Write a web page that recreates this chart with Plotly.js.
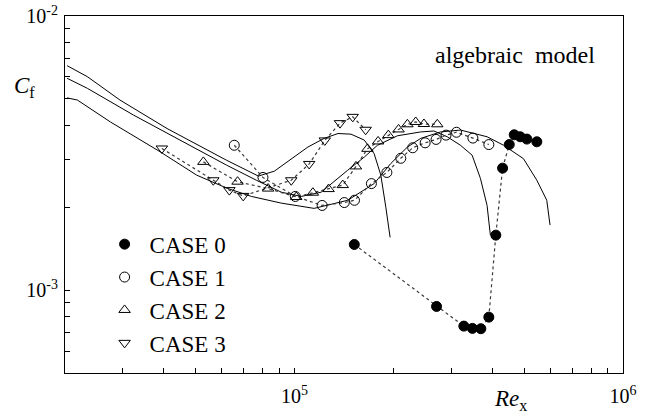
<!DOCTYPE html>
<html>
<head>
<meta charset="utf-8">
<script src="https://cdn.plot.ly/plotly-3.0.1.min.js"></script>
<style>html,body{margin:0;padding:0;background:#fff;}#chart{width:662px;height:418px;}</style>
</head>
<body>
<div id="chart"></div>
<script>
// ---- measured data (Re_x, Cf) ----
const case0Re = [1.52e5, 2.706e5, 3.276e5, 3.479e5, 3.692e5, 3.904e5, 4.100e5, 4.299e5, 4.505e5, 4.665e5, 4.864e5, 5.096e5, 5.466e5];
const case0Cf = [1.47e-3, 8.74e-4, 7.41e-4, 7.27e-4, 7.25e-4, 7.99e-4, 1.59e-3, 2.79e-3, 3.40e-3, 3.69e-3, 3.63e-3, 3.56e-3, 3.48e-3];

const case1Re = [6.553e4, 8.013e4, 1.005e5, 1.213e5, 1.417e5, 1.522e5, 1.714e5, 1.910e5, 2.106e5, 2.289e5, 2.498e5, 2.697e5, 2.892e5, 3.112e5, 3.491e5, 3.904e5];
const case1Cf = [3.38e-3, 2.58e-3, 2.20e-3, 2.04e-3, 2.09e-3, 2.13e-3, 2.45e-3, 2.69e-3, 3.03e-3, 3.31e-3, 3.45e-3, 3.55e-3, 3.68e-3, 3.77e-3, 3.59e-3, 3.40e-3];

const case2Re = [5.277e4, 6.705e4, 8.307e4, 1.012e5, 1.137e5, 1.269e5, 1.402e5, 1.538e5, 1.667e5, 1.796e5, 1.930e5, 2.073e5, 2.206e5, 2.338e5, 2.477e5, 2.720e5];
const case2Cf = [2.94e-3, 2.49e-3, 2.35e-3, 2.19e-3, 2.27e-3, 2.34e-3, 2.42e-3, 2.83e-3, 3.28e-3, 3.49e-3, 3.68e-3, 3.86e-3, 4.03e-3, 4.11e-3, 4.04e-3, 4.03e-3];

const case3Re = [3.945e4, 5.657e4, 6.332e4, 6.976e4, 9.77e4, 1.108e5, 1.236e5, 1.375e5, 1.503e5, 1.646e5];
const case3Cf = [3.29e-3, 2.52e-3, 2.32e-3, 2.21e-3, 2.52e-3, 2.89e-3, 3.52e-3, 4.07e-3, 4.29e-3, 3.85e-3];

// ---- algebraic model curves ----
const model3Re = [2.03e4, 2.34e4, 2.94e4, 4.09e4, 6.21e4, 7.14e4, 7.76e4, 8.68e4, 9.77e4, 1.098e5, 1.23e5, 1.356e5, 1.485e5, 1.63e5, 1.747e5, 1.831e5, 1.896e5, 1.954e5];
const model3Cf = [6.59e-3, 6.01e-3, 4.94e-3, 3.89e-3, 2.98e-3, 2.74e-3, 2.61e-3, 2.72e-3, 3.02e-3, 3.33e-3, 3.58e-3, 3.73e-3, 3.71e-3, 3.53e-3, 3.15e-3, 2.63e-3, 2.01e-3, 1.56e-3];

const model2Re = [2.03e4, 2.34e4, 3.238e4, 4.381e4, 6.21e4, 7.654e4, 9.114e4, 1.048e5, 1.205e5, 1.451e5, 1.63e5, 1.788e5, 2.057e5, 2.421e5, 2.656e5, 2.916e5, 3.2e5, 3.472e5, 3.68e5, 3.856e5, 3.946e5];
const model2Cf = [5.93e-3, 5.45e-3, 4.35e-3, 3.58e-3, 2.86e-3, 2.52e-3, 2.28e-3, 2.20e-3, 2.28e-3, 2.74e-3, 3.06e-3, 3.38e-3, 3.66e-3, 3.78e-3, 3.81e-3, 3.63e-3, 3.38e-3, 3.11e-3, 2.56e-3, 2.04e-3, 1.59e-3];

const model1Re = [2.03e4, 2.181e4, 2.75e4, 3.898e4, 5.036e4, 6.21e4, 7.393e4, 9.11e4, 1.147e5, 1.451e5, 1.747e5, 1.963e5, 2.206e5, 2.421e5, 2.783e5, 3.2e5, 3.856e5, 4.329e5, 4.977e5, 5.466e5, 5.86e5, 5.996e5];
const model1Cf = [5.03e-3, 4.94e-3, 4.11e-3, 3.20e-3, 2.63e-3, 2.36e-3, 2.20e-3, 2.08e-3, 1.99e-3, 2.13e-3, 2.45e-3, 2.90e-3, 3.33e-3, 3.58e-3, 3.78e-3, 3.84e-3, 3.63e-3, 3.38e-3, 3.02e-3, 2.52e-3, 2.13e-3, 1.73e-3];

// ---- ticks ----
const xTickVals = [1e5, 1e6];
const xTickText = ['10<sup>5</sup>', '10<sup>6</sup>'];
const xMinorVals = [2e4,3e4,4e4,5e4,6e4,7e4,8e4,9e4,2e5,3e5,4e5,5e5,6e5,7e5,8e5,9e5];
const yTickVals = [1e-3, 1e-2];
const yTickText = ['10<sup>-3</sup>', '10<sup>-2</sup>'];
const yMinorVals = [5e-4,6e-4,7e-4,8e-4,9e-4,2e-3,3e-3,4e-3,5e-3,6e-3,7e-3,8e-3,9e-3];

const caseNames = ['CASE 0','CASE 1','CASE 2','CASE 3'];

const serif = 'Liberation Serif, Times New Roman, serif';
const dotLine = {color: '#3a3a3a', width: 1.2, dash: 'dot'};
const modelLine = {color: '#000', width: 1};

const traces = [];
[[model1Re, model1Cf], [model2Re, model2Cf], [model3Re, model3Cf]].forEach(function (m) {
  traces.push({x: m[0], y: m[1], mode: 'lines', line: modelLine, showlegend: false, hoverinfo: 'skip'});
});

const cases = [
  {x: case0Re, y: case0Cf, sym: 'circle', size: 10, color: '#000'},
  {x: case1Re, y: case1Cf, sym: 'circle-open', size: 10, color: '#000'},
  {x: case2Re, y: case2Cf, sym: 'triangle-up-open', size: 10, color: '#000'},
  {x: case3Re, y: case3Cf, sym: 'triangle-down-open', size: 10, color: '#000'}
];
cases.forEach(function (c) {
  traces.push({x: c.x, y: c.y, mode: 'lines', line: dotLine, showlegend: false, hoverinfo: 'skip'});
});
cases.forEach(function (c, i) {
  traces.push({x: c.x, y: c.y, mode: 'markers', name: caseNames[i], legendgroup: 'g' + i,
    marker: {symbol: c.sym, size: c.size, color: c.color, line: {color: '#000', width: 1}}});
});

function axisStyle(range, vals, text, minorVals, standoff) {
  return {type: 'log', range: range, tickmode: 'array', tickvals: vals, ticktext: text,
    ticks: 'inside', ticklen: 5, tickcolor: '#000', tickwidth: 1, ticklabelstandoff: standoff,
    minor: {tickmode: 'array', tickvals: minorVals, ticks: 'inside', ticklen: 5, tickcolor: '#000', tickwidth: 1, showgrid: false},
    showline: true, linecolor: '#000', linewidth: 1, mirror: true, showgrid: false, zeroline: false,
    tickfont: {family: serif, size: 20, color: '#000'}};
}

const layout = {
  width: 662, height: 418,
  margin: {l: 65, r: 39, t: 16, b: 45},
  paper_bgcolor: '#fff', plot_bgcolor: '#fff',
  font: {family: serif, color: '#000', size: 19},
  showlegend: true,
  legend: {x: 0.062, y: 0.421, xanchor: 'left', yanchor: 'top', bgcolor: 'rgba(0,0,0,0)', itemwidth: 40,
    font: {family: serif, size: 23, color: '#000'}, traceorder: 'grouped', tracegroupgap: 0},
  xaxis: axisStyle([Math.log10(2e4), 6], xTickVals, xTickText, xMinorVals, 5),
  yaxis: axisStyle([Math.log10(5e-4), -2], yTickVals, yTickText, yMinorVals, 2),
  annotations: [
    {text: '<i>C</i><sub>f</sub>', xref: 'paper', yref: 'paper', x: -0.095, y: 0.80, xanchor: 'left', yanchor: 'middle',
      showarrow: false, font: {family: serif, size: 23, color: '#000'}},
    {text: '<i>Re</i><sub>x</sub>', xref: 'paper', yref: 'paper', x: 0.765, y: -0.075, xanchor: 'left', yanchor: 'middle',
      showarrow: false, font: {family: serif, size: 23, color: '#000'}},
    {text: 'algebraic  model', xref: 'paper', yref: 'paper', x: 0.66, y: 0.89, xanchor: 'left', yanchor: 'middle',
      showarrow: false, font: {family: serif, size: 24, color: '#000'}}
  ]
};

Plotly.newPlot('chart', traces, layout, {displayModeBar: false, staticPlot: true});
</script>
</body>
</html>
